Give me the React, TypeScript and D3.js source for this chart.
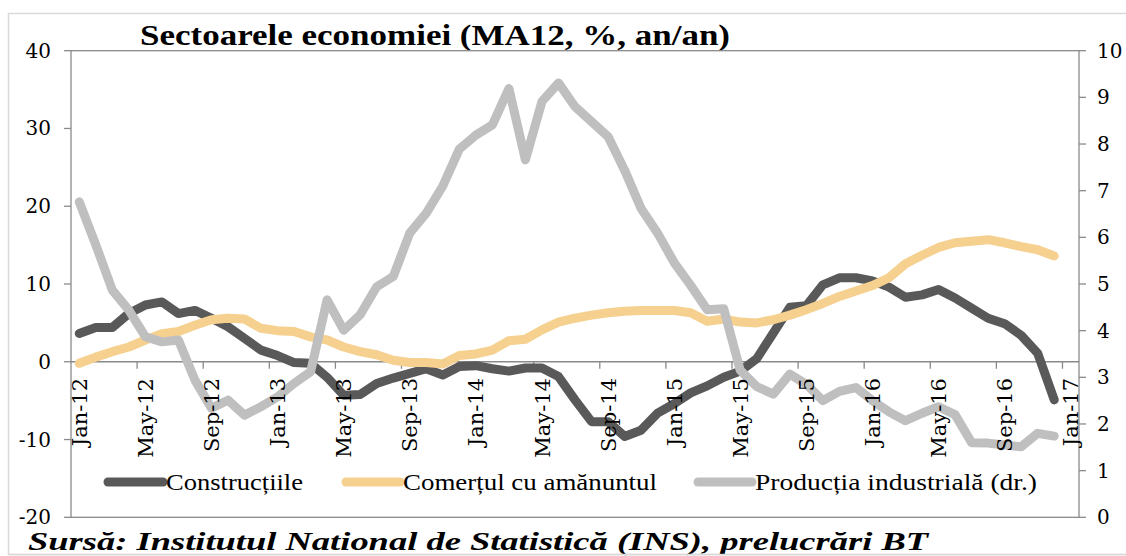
import React from 'react';
import * as d3 from 'd3';

const MONTHS = ['Jan', 'Feb', 'Mar', 'Apr', 'May', 'Jun', 'Jul', 'Aug', 'Sep', 'Oct', 'Nov', 'Dec'];
const YEARS = ['12', '13', '14', '15', '16', '17'];
const categories: string[] = YEARS.flatMap((y) => MONTHS.map((m) => `${m}-${y}`)).slice(0, 61);

const construction = [
  3.65, 4.4, 4.4, 6.2, 7.3, 7.7, 6.2, 6.6, 5.6, 4.5,
  3.0, 1.5, 0.8, -0.1, -0.2, -2.0, -4.3, -4.2, -2.8, -2.1,
  -1.5, -0.9, -1.7, -0.6, -0.5, -0.9, -1.2, -0.8, -0.8, -1.9,
  -4.9, -7.7, -7.7, -9.6, -8.8, -6.6, -5.4, -4.0, -3.1, -2.0,
  -1.2, 0.4, 3.7, 7.0, 7.2, 9.9, 10.8, 10.8, 10.4, 9.6,
  8.3, 8.6, 9.3, 8.2, 6.9, 5.6, 4.9, 3.4, 1.1, -4.9,
];
const retail = [
  -0.2, 0.6, 1.3, 1.9, 2.8, 3.6, 3.9, 4.7, 5.4, 5.6,
  5.5, 4.3, 4.0, 3.9, 3.2, 2.8, 1.9, 1.3, 0.9, 0.2,
  -0.1, -0.1, -0.3, 0.8, 1.0, 1.5, 2.7, 2.9, 4.1, 5.1,
  5.6, 6.0, 6.3, 6.5, 6.6, 6.6, 6.6, 6.3, 5.2, 5.5,
  5.1, 5.0, 5.4, 6.0, 6.7, 7.5, 8.4, 9.1, 9.8, 10.8,
  12.6, 13.7, 14.7, 15.3, 15.5, 15.7, 15.3, 14.8, 14.4, 13.6,
];
const industry = [
  6.76, 5.84, 4.87, 4.44, 3.87, 3.76, 3.8, 2.94, 2.34, 2.51,
  2.19, 2.37, 2.58, 2.87, 3.12, 4.66, 4.01, 4.34, 4.94, 5.16,
  6.09, 6.52, 7.1, 7.89, 8.19, 8.41, 9.19, 7.66, 8.91, 9.31,
  8.8, 8.48, 8.16, 7.44, 6.62, 6.09, 5.46, 4.97, 4.45, 4.47,
  3.15, 2.8, 2.64, 3.07, 2.85, 2.5, 2.7, 2.78, 2.5, 2.26,
  2.07, 2.23, 2.37, 2.2, 1.6, 1.59, 1.55, 1.51, 1.8, 1.74,
];

const leftTicks = [-20, -10, 0, 10, 20, 30, 40];
const rightTicks = [0, 1, 2, 3, 4, 5, 6, 7, 8, 9, 10];

const TITLE = 'Sectoarele economiei (MA12, %, an/an)';
const SOURCE = 'Sursă: Institutul National de Statistică (INS), prelucrări BT';
const seriesNames = ['Construcțiile', 'Comerțul cu amănuntul', 'Producția industrială (dr.)'];
const COLORS = ['#595959', '#F5D08F', '#BFBFBF'];

const W = 1126;
const H = 556;
const PL = 71;
const PR = 1079;
const PT = 50.7;
const PB = 517.3;
const AXIS = '#8a8a8a';
const NUM_FONT = 'DejaVu Serif';
const TXT_FONT = 'Liberation Serif';

export default function App() {
  const x = d3.scaleBand<string>().domain(categories).range([PL, PR]).paddingInner(0).paddingOuter(0);
  const bw = x.bandwidth();
  const cx = (i: number) => (x(categories[i]) as number) + bw / 2;
  const yL = d3.scaleLinear().domain([-20, 40]).range([PB, PT]);
  const yR = d3.scaleLinear().domain([0, 10]).range([PB, PT]);

  const lineL = d3.line<number>().x((_, i) => cx(i)).y((d) => yL(d));
  const lineR = d3.line<number>().x((_, i) => cx(i)).y((d) => yR(d));

  const boundaryTicks = d3.range(4, categories.length, 4).map((k) => PL + k * bw);
  const labelIdx = d3.range(0, categories.length, 4);

  const legend = [
    { x1: 108, x2: 163, tx: 166, tl: 137 },
    { x1: 346, x2: 400, tx: 403, tl: 254 },
    { x1: 698, x2: 752, tx: 755, tl: 282 },
  ];

  return (
    <svg width={W} height={H} style={{ position: 'absolute', left: 0, top: 0, background: '#fff' }}>
      <rect x={0} y={0} width={W} height={H} fill="#fff" />
      {/* outer border */}
      <path d={`M${W + 2},13.5 H8.5 V554.5 H${W + 2}`} fill="none" stroke="#d9d9d9" strokeWidth={1.5} />

      {/* title */}
      <text x={140} y={45} fontFamily={TXT_FONT} fontWeight="bold" fontSize={30} textLength={590} lengthAdjust="spacingAndGlyphs" fill="#000">
        {TITLE}
      </text>

      {/* plot border */}
      <rect x={PL} y={PT} width={PR - PL} height={PB - PT} fill="none" stroke={AXIS} strokeWidth={1.3} />

      {/* left axis ticks */}
      {leftTicks.map((t) => (
        <g key={`l${t}`}>
          <line x1={PL - 7} x2={PL} y1={yL(t)} y2={yL(t)} stroke={AXIS} strokeWidth={1.3} />
          <text x={51} y={yL(t)} textAnchor="end" dominantBaseline="central" fontFamily={NUM_FONT} fontSize={20} fill="#000">
            {t}
          </text>
        </g>
      ))}
      {/* right axis ticks */}
      {rightTicks.map((t) => (
        <g key={`r${t}`}>
          <line x1={PR} x2={PR + 7} y1={yR(t)} y2={yR(t)} stroke={AXIS} strokeWidth={1.3} />
          <text x={1097} y={yR(t)} textAnchor="start" dominantBaseline="central" fontFamily={NUM_FONT} fontSize={20} fill="#000">
            {t}
          </text>
        </g>
      ))}

      {/* x axis at 0 */}
      <line x1={PL} x2={PR} y1={yL(0)} y2={yL(0)} stroke={AXIS} strokeWidth={1.3} />
      {boundaryTicks.map((bx, k) => (
        <line key={`b${k}`} x1={bx} x2={bx} y1={yL(0)} y2={yL(0) + 7} stroke={AXIS} strokeWidth={1.3} />
      ))}

      {/* series */}
      <path d={lineL(construction) || ''} fill="none" stroke={COLORS[0]} strokeWidth={9} strokeLinejoin="round" strokeLinecap="round" />
      <path d={lineL(retail) || ''} fill="none" stroke={COLORS[1]} strokeWidth={9} strokeLinejoin="round" strokeLinecap="round" />
      <path d={lineR(industry) || ''} fill="none" stroke={COLORS[2]} strokeWidth={9} strokeLinejoin="round" strokeLinecap="round" />

      {/* x labels */}
      {labelIdx.map((i) => (
        <text
          key={`x${i}`}
          transform={`translate(${cx(i)},378) rotate(-90)`}
          textAnchor="end"
          dy="0.36em"
          fontFamily={NUM_FONT}
          fontSize={21}
          fill="#000"
        >
          {categories[i]}
        </text>
      ))}

      {/* legend */}
      {legend.map((l, k) => (
        <g key={`lg${k}`}>
          <line x1={l.x1} x2={l.x2} y1={482} y2={482} stroke={COLORS[k]} strokeWidth={9} strokeLinecap="round" />
          <text x={l.tx} y={482} dominantBaseline="central" fontFamily={TXT_FONT} fontSize={24} textLength={l.tl} lengthAdjust="spacingAndGlyphs" fill="#000">
            {seriesNames[k]}
          </text>
        </g>
      ))}

      {/* source */}
      <text x={28} y={550} fontFamily={TXT_FONT} fontWeight="bold" fontStyle="italic" fontSize={25} textLength={900} lengthAdjust="spacingAndGlyphs" fill="#000">
        {SOURCE}
      </text>
      <line x1={8.5} x2={W} y1={554.5} y2={554.5} stroke="#d9d9d9" strokeWidth={1.5} />
    </svg>
  );
}
